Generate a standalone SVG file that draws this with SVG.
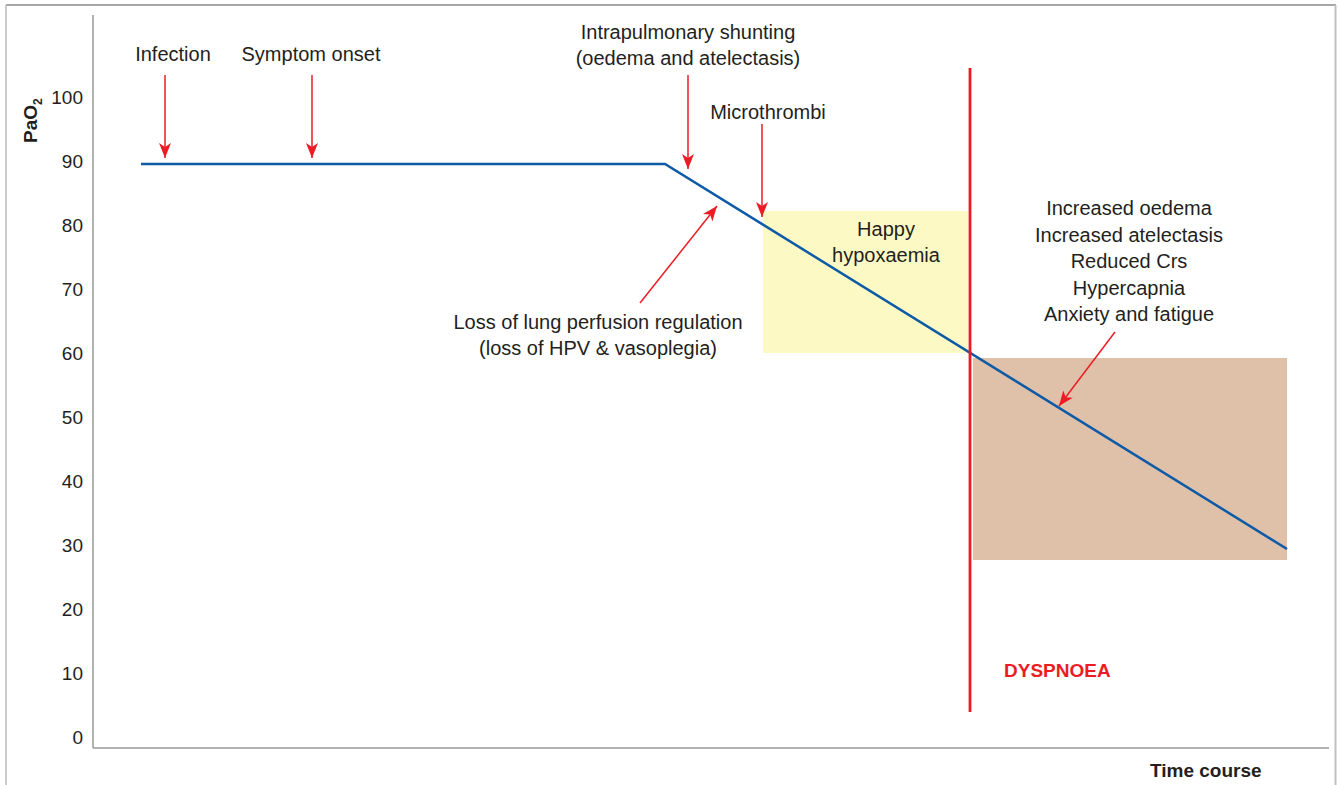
<svg xmlns="http://www.w3.org/2000/svg" width="1339" height="785" viewBox="0 0 1339 785">
<style>
.t{font-family:"Liberation Sans",Arial,sans-serif;font-size:20px;fill:#231f20;text-anchor:middle}
.n{font-family:"Liberation Sans",Arial,sans-serif;font-size:19px;fill:#231f20;text-anchor:end}
.b{font-family:"Liberation Sans",Arial,sans-serif;font-size:19px;font-weight:bold;fill:#231f20}
.arr{stroke:#ed1c24;stroke-width:1.5;fill:none;marker-end:url(#ah)}
</style>
<defs>
<marker id="ah" markerUnits="userSpaceOnUse" markerWidth="16" markerHeight="12" refX="15" refY="6" orient="auto">
<path d="M0,0 L15,6 L0,12 L4,6 z" fill="#ed1c24"/>
</marker>
</defs>
<rect width="1339" height="785" fill="#fff"/>
<g id="frame">
<line x1="6" y1="5" x2="1336" y2="5" stroke="#888" stroke-width="1.5"/>
<line x1="6" y1="5" x2="6" y2="785" stroke="#bbb" stroke-width="1.5"/>
<line x1="1335.5" y1="5" x2="1335.5" y2="785" stroke="#c0c0c0" stroke-width="2"/>
</g>
<g id="regions">
<rect x="763" y="211" width="205" height="142" fill="#fdf9c4"/>
<rect x="973" y="358" width="314" height="202" fill="#dfc0a8"/>
</g>
<g id="axes">
<line x1="93" y1="15" x2="93" y2="748" stroke="#999" stroke-width="1.5"/>
<line x1="93" y1="748" x2="1329" y2="748" stroke="#999" stroke-width="1.5"/>
<text class="n" x="83" y="104">100</text>
<text class="n" x="83" y="168">90</text>
<text class="n" x="83" y="232">80</text>
<text class="n" x="83" y="296">70</text>
<text class="n" x="83" y="360">60</text>
<text class="n" x="83" y="424">50</text>
<text class="n" x="83" y="488">40</text>
<text class="n" x="83" y="552">30</text>
<text class="n" x="83" y="616">20</text>
<text class="n" x="83" y="680">10</text>
<text class="n" x="83" y="744">0</text>
<text class="b" transform="translate(37,143) rotate(-90)">PaO<tspan font-size="12" dy="5">2</tspan></text>
<text class="b" x="1150" y="777">Time course</text>
</g>
<g id="curve">
<polyline points="141,164 665,164 1287,549" fill="none" stroke="#0d5aa7" stroke-width="2.5"/>
</g>
<g id="dyspnoea">
<line x1="970" y1="68" x2="970" y2="712" stroke="#ed1c24" stroke-width="2.8"/>
<text class="b" x="1004" y="677" fill="#ed1c24" style="fill:#ed1c24">DYSPNOEA</text>
</g>
<g id="connectors">
<line class="arr" x1="165" y1="75" x2="165" y2="158"/>
<line class="arr" x1="312" y1="75" x2="312" y2="158"/>
<line class="arr" x1="688" y1="75" x2="688" y2="169"/>
<line class="arr" x1="762" y1="124" x2="762" y2="217"/>
<line class="arr" x1="640" y1="303" x2="717" y2="206"/>
<line class="arr" x1="1115" y1="332" x2="1059" y2="406"/>
</g>
<g id="label-infection"><text class="t" x="173" y="61">Infection</text></g>
<g id="label-symptom"><text class="t" x="311" y="61">Symptom onset</text></g>
<g id="label-shunting"><text class="t" x="688" y="39">Intrapulmonary shunting</text><text class="t" x="688" y="65">(oedema and atelectasis)</text></g>
<g id="label-microthrombi"><text class="t" x="768" y="119">Microthrombi</text></g>
<g id="label-happy"><text class="t" x="886" y="236">Happy</text><text class="t" x="886" y="262">hypoxaemia</text></g>
<g id="label-loss"><text class="t" x="598" y="329">Loss of lung perfusion regulation</text><text class="t" x="598" y="355">(loss of HPV &amp; vasoplegia)</text></g>
<g id="label-late">
<text class="t" x="1129" y="215">Increased oedema</text>
<text class="t" x="1129" y="242">Increased atelectasis</text>
<text class="t" x="1129" y="268">Reduced Crs</text>
<text class="t" x="1129" y="295">Hypercapnia</text>
<text class="t" x="1129" y="321">Anxiety and fatigue</text>
</g>
</svg>
